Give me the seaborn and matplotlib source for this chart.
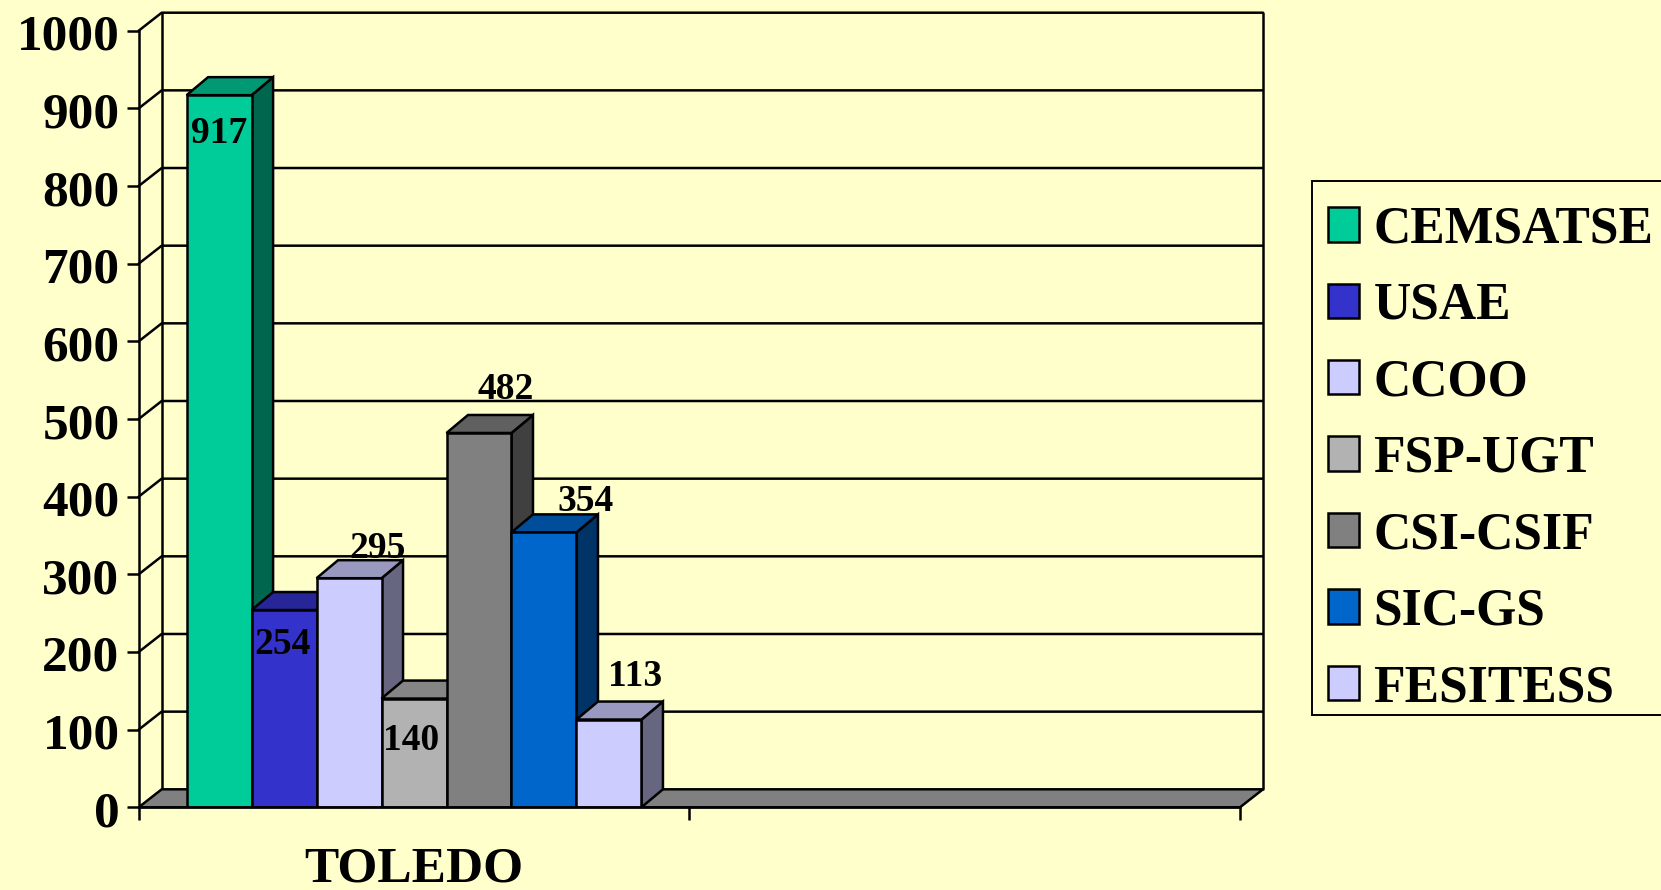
import matplotlib
matplotlib.use("Agg")
import matplotlib.pyplot as plt
from matplotlib.colors import to_rgb
from matplotlib.patches import Polygon, Rectangle
from matplotlib.ticker import FixedLocator, NullFormatter, FixedFormatter
from matplotlib.transforms import ScaledTranslation
import pandas as pd
import seaborn as sns

# ---- data ----
region = "TOLEDO"
categories = [region, " "]
unions = ["CEMSATSE", "USAE", "CCOO", "FSP-UGT", "CSI-CSIF", "SIC-GS", "FESITESS"]
values = [917, 254, 295, 140, 482, 354, 113]
colors = ["#00CC99", "#3333CC", "#CCCCFF", "#B2B2B2", "#808080", "#0066CC", "#CCCCFF"]
y_ticks = list(range(0, 1001, 100))

# ---- style ----
BG = "#FFFFCC"
W, H = 1661, 890
LEFT, RIGHT, TOP, BOTTOM = 138.7, 1240.0, 30.7, 807.3   # axes frame in pixels
WALL_DX, WALL_DY = 23, 18
BAR_DX, BAR_DY = 21.5, 18
LW = 1.8
# label offsets from the bar's top centre, in pixels (x right, y up)
label_offsets = [(0, -38), (-2, -34), (29, 30), (-3, -42), (27, 43), (42, 31), (26, 43)]

sns.set_theme(style="white")
plt.rcParams["font.family"] = ["Liberation Serif", "DejaVu Serif"]
plt.rcParams["font.weight"] = "bold"

fig = plt.figure(figsize=(W / 100, H / 100), dpi=100, facecolor=BG)
ax = fig.add_axes([LEFT / W, 1 - BOTTOM / H, (RIGHT - LEFT) / W, (BOTTOM - TOP) / H])
ax.set_facecolor("none")

df = pd.DataFrame({"region": region, "union": unions, "value": values})
sns.barplot(data=df, x="region", y="value", hue="union", order=categories, hue_order=unions,
            palette=colors, saturation=1, width=0.826, gap=0, errorbar=None,
            edgecolor="black", linewidth=LW, ax=ax, legend=True)

ax.set_xlim(-0.5, 1.5)
ax.set_ylim(0, 1000)
ax.set_xlabel("")
ax.set_ylabel("")

# pixel → data scales for the fake depth
px_x = 2.0 / (RIGHT - LEFT)
px_y = 1000.0 / (BOTTOM - TOP)
x0, x1 = ax.get_xlim()
wdx, wdy = WALL_DX * px_x, WALL_DY * px_y
bdx, bdy = BAR_DX * px_x, BAR_DY * px_y

line = dict(color="black", lw=LW, clip_on=False, solid_capstyle="round")
# floor
ax.add_patch(Polygon([(x0, 0), (x1, 0), (x1 + wdx, wdy), (x0 + wdx, wdy)], closed=True,
                     facecolor="#808080", edgecolor="black", lw=LW, clip_on=False, zorder=1.5))
# back wall and grid
for v in y_ticks:
    if v > 0:
        ax.plot([x0, x0 + wdx, x1 + wdx], [v, v + wdy, v + wdy], zorder=1, **line)
ax.plot([x0 + wdx, x0 + wdx], [wdy, 1000 + wdy], zorder=1, **line)
ax.plot([x1 + wdx, x1 + wdx], [wdy, 1000 + wdy], zorder=1, **line)


def shade(c, k):
    return tuple(v * k for v in to_rgb(c))


# bars: side and top faces built from each seaborn bar
for i, cont in enumerate(ax.containers):
    for bar in cont.patches:
        h = bar.get_height()
        if not h or h != h:
            continue
        xa, xb = bar.get_x(), bar.get_x() + bar.get_width()
        c = colors[i]
        bar.set_zorder(3 + i + 0.5)
        ax.add_patch(Polygon([(xb, 0), (xb + bdx, bdy), (xb + bdx, h + bdy), (xb, h)], closed=True,
                             facecolor=shade(c, 0.5), edgecolor="black", lw=LW, zorder=3 + i))
        ax.add_patch(Polygon([(xa, h), (xa + bdx, h + bdy), (xb + bdx, h + bdy), (xb, h)], closed=True,
                             facecolor=shade(c, 0.75), edgecolor="black", lw=LW, zorder=3 + i))
        ox, oy = label_offsets[i]
        ax.annotate(str(values[i]), xy=((xa + xb) / 2, h), xytext=(ox * 0.72, oy * 0.72),
                    textcoords="offset points", ha="center", va="center", fontsize=27,
                    fontweight="bold", color="black", zorder=30, annotation_clip=False)

# axes
for s in ("top", "right"):
    ax.spines[s].set_visible(False)
for s in ("left", "bottom"):
    ax.spines[s].set_linewidth(LW)
    ax.spines[s].set_color("black")
    ax.spines[s].set_zorder(20)
ax.set_yticks(y_ticks)
ax.set_yticklabels([str(v) for v in y_ticks])
ax.tick_params(axis="y", which="major", left=True, length=8.8, width=LW, color="black",
               pad=5, labelsize=37, labelcolor="black")
ax.xaxis.set_major_locator(FixedLocator([-0.5, 0.5, 1.5]))
ax.xaxis.set_major_formatter(NullFormatter())
ax.xaxis.set_minor_locator(FixedLocator([0]))
ax.xaxis.set_minor_formatter(FixedFormatter([region]))
ax.tick_params(axis="x", which="major", bottom=True, length=9.2, width=LW, color="black")
ax.tick_params(axis="x", which="minor", bottom=False, length=0, pad=28.5, labelsize=37, labelcolor="black")
for t in ax.get_xticklabels(minor=True) + ax.get_yticklabels():
    t.set_fontweight("bold")
for t in ax.get_yticklabels():
    t.set_transform(t.get_transform() + ScaledTranslation(0, -1.5 / 100, fig.dpi_scale_trans))

# legend: frame is a separate box so the top padding can exceed the left padding
handles, labels = ax.get_legend_handles_labels()
ax.get_legend().remove()
fig.add_artist(Rectangle((1312.3 / W, 1 - 715 / H), 400 / W, (715 - 181) / H,
                         transform=fig.transFigure, facecolor=BG, edgecolor="black", lw=1.4))
leg = fig.legend(handles, labels, loc="upper left", bbox_to_anchor=(1312.3 / W, 1 - 190 / H),
                 bbox_transform=fig.transFigure, borderaxespad=0, borderpad=0.3,
                 prop={"weight": "bold", "size": 37.2}, labelcolor="black",
                 handlelength=0.6, handleheight=0.65, handletextpad=0.28, labelspacing=0.55,
                 frameon=False)
for h in leg.legend_handles:
    h.set_linewidth(LW)
    h.set_edgecolor("black")

fig.savefig("out.png", dpi=100, facecolor=BG)
